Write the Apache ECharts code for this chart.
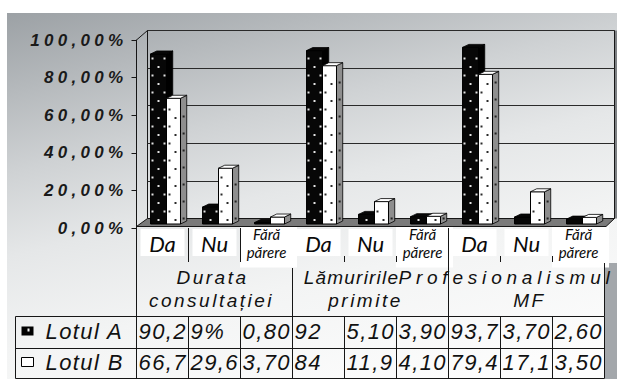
<!DOCTYPE html>
<html>
<head>
<meta charset="utf-8">
<script src="https://cdn.jsdelivr.net/npm/echarts@6/dist/echarts.min.js"></script>
<style>
  html, body { margin: 0; padding: 0; background: #fff; }
  #chart { width: 617px; height: 379px; }
  /* wide Excel-style tracking for the table and axis texts */
  #chart text[style*="Liberation"][style*="17px"] { letter-spacing: 4.3px; }
  #chart text[style*="Liberation"][style*="19px"] { letter-spacing: 2.5px; }
  #chart text[style*="Liberation"][style*="19px"][style*="Arial"] { letter-spacing: 1.2px; }
  #chart text[style*="Liberation"][style*="19px"][style*="Arimo"] { letter-spacing: 4.8px; }
  #chart text[style*="Liberation"][style*="22px"] { letter-spacing: 1.4px; }
</style>
</head>
<body>
<div id="chart"></div>
<script>
// answer categories (three per question)
const categories = ['Da', 'Nu', 'Fără părere', 'Da', 'Nu', 'Fără părere', 'Da', 'Nu', 'Fără părere'];
// questions, one per block of three categories
const groups = ['Durata consultației', 'Lămuririle primite', 'Profesionalismul MF'];
const seriesNames = ['Lotul A', 'Lotul B'];
// percentages per answer
const lotulA = [90.2, 9, 0.8, 92, 5.1, 3.9, 93.7, 3.7, 2.6];
const lotulB = [66.7, 29.6, 3.7, 84, 11.9, 4.1, 79.4, 17.1, 3.5];
// data-table cell texts as they appear in the narrow cells
const lotulAText = ['90,2', '9%', '0,80', '92', '5,10', '3,90', '93,7', '3,70', '2,60'];
const lotulBText = ['66,7', '29,6', '3,70', '84', '11,9', '4,10', '79,4', '17,1', '3,50'];

const chart = echarts.init(document.getElementById('chart'), null, { renderer: 'svg' });

const ARIAL = 'Liberation Sans';
const HUMANIST = 'Lato';

// geometry of the data table under the plot
const tableLeft = 136.5, colW = 52, rowATop = 316.5, rowBTop = 348.5, tableBottom = 378.5;
// horizontal nudges of the two wrapped lines of each question label
const groupLineShift = [[-2, -3], [-19, -5], [-20, 3]];
const groupLineFamily = [[ARIAL, ARIAL], ['Liberation Sans, Arial', ARIAL], ['Liberation Sans, Arimo', ARIAL]];

// 3D column with dotted fill, drawn from the category/value scales
function drawColumn(isA) {
  return function (params, api) {
    const i = api.value(0);
    const v = api.value(1);
    const top = api.coord([i, v]);
    const base = api.coord([i, 0]);
    const bw = api.size([1, 0])[0];
    const cx = top[0];
    const x0 = cx + bw * (isA ? -0.23 : 0.077);
    const x1 = cx + bw * (isA ? 0.077 : 0.346);
    const dx = bw * 0.12, dy = -3;
    const yT = top[1], yB = base[1];
    const face = isA ? '#070707' : '#ffffff';
    const side = isA ? '#000000' : '#8e8e8e';
    const dot = isA ? '#e4e4e4' : '#2a2a2a';
    const children = [
      { type: 'polygon', shape: { points: [[x1, yT], [x1 + dx, yT + dy], [x1 + dx, yB + dy], [x1, yB]] },
        style: { fill: side, stroke: '#000', lineWidth: 0.8 } },
      { type: 'rect', shape: { x: x0, y: yT, width: x1 - x0, height: yB - yT },
        style: { fill: face, stroke: '#000', lineWidth: 1 } },
      { type: 'polygon', shape: { points: [[x0, yT], [x1, yT], [x1 + dx, yT + dy], [x0 + dx, yT + dy]] },
        style: { fill: face, stroke: '#000', lineWidth: 0.8 } }
    ];
    for (let j = 0; ; j++) {
      const y = yB - 4 - 8.5 * j;
      if (y < yT + 3) break;
      const xs = isA ? (j % 2 ? [cx - 10, cx + 2] : [cx - 4]) : (j % 2 ? [cx + 7] : [cx + 13]);
      xs.forEach(function (x) {
        children.push({ type: 'rect', shape: { x: x - 1, y: y - 1, width: 2, height: 2 }, style: { fill: dot } });
      });
      if (!isA && j % 2 === 0) {
        children.push({ type: 'rect', shape: { x: x1 + dx / 2 - 1, y: y - 1 + dy / 2, width: 2, height: 2 }, style: { fill: '#222' } });
      }
    }
    return { type: 'group', children: children };
  };
}

// data-table value cells, placed in the category columns
function drawTableRow(params, api) {
  const i = api.value(0);
  const c = api.coord([i, 0]);
  const bw = api.size([1, 0])[0];
  const left = c[0] - bw / 2;
  const cell = function (text, y) {
    return { type: 'text', x: left + 2, y: y,
      style: { text: text, fill: '#111', fontSize: 22, fontFamily: ARIAL, fontStyle: 'italic',
               align: 'left', verticalAlign: 'middle' } };
  };
  return { type: 'group', children: [cell(lotulAText[i], 331), cell(lotulBText[i], 362)] };
}

// question labels, centred under their block of three categories
function drawGroupLabel(params, api) {
  const g = params.dataIndex;
  const cx = api.coord([api.value(0), 0])[0];
  const lines = groups[g].split(' ');
  return { type: 'group', children: lines.map(function (t, n) {
    return { type: 'text', x: cx + groupLineShift[g][n], y: 277 + 23 * n,
      style: { text: t, fill: '#111', fontSize: 19, fontFamily: groupLineFamily[g][n], fontStyle: 'italic',
               align: 'center', verticalAlign: 'middle' } };
  }) };
}

// table rules and label boxes
const tableGraphics = [];
const boxes = [];
categories.forEach(function (c, k) {
  const L = tableLeft + colW * k;
  if (c.indexOf(' ') > 0) {
    boxes.push({ type: 'rect', z: -2, shape: { x: L - 0.5, y: 226.5, width: 57, height: 41 }, style: { fill: '#ffffff' } });
  } else {
    boxes.push({ type: 'rect', z: -2, shape: { x: L + 4, y: 229, width: 44, height: 27 }, style: { fill: '#ffffff' } });
  }
});
function vline(x, y1, y2) {
  tableGraphics.push({ type: 'line', z: 5, shape: { x1: x, y1: y1, x2: x, y2: y2 }, style: { stroke: '#161616', lineWidth: 1 } });
}
function hline(y, x1, x2) {
  tableGraphics.push({ type: 'line', z: 5, shape: { x1: x1, y1: y, x2: x2, y2: y }, style: { stroke: '#161616', lineWidth: 1 } });
}
vline(tableLeft, 228, tableBottom);
vline(15.5, rowATop, tableBottom);
[rowATop, rowBTop, tableBottom].forEach(function (y) { hline(y, 15.5, tableLeft + colW * 9); });
for (let k = 1; k <= 9; k++) vline(tableLeft + colW * k, rowATop, tableBottom);
vline(tableLeft + colW * 1, 228, 262);
vline(tableLeft + colW * 2, 228, 262);
[4, 5, 7, 8].forEach(function (k) { vline(tableLeft + colW * k, 256, 262); });
vline(tableLeft + colW * 3, 268, rowATop);
vline(tableLeft + colW * 6, 228, rowATop);
vline(tableLeft + colW * 9, 263, rowATop);

const option = {
  backgroundColor: '#ffffff',
  animation: false,
  grid: [
    { left: 136.5, right: 12.5, top: 35.5, bottom: 155 },
    { left: 136.5, right: 12.5, top: 40, bottom: 151 },
    { left: 147.5, right: 2.5, top: 30.5, bottom: 160.5, show: true,
      borderColor: '#161616', borderWidth: 1, backgroundColor: 'transparent' }
  ],
  xAxis: [
    { type: 'category', gridIndex: 0, data: categories, position: 'bottom',
      axisLine: { show: false }, axisTick: { show: false }, splitLine: { show: false },
      axisLabel: {
        interval: 0, margin: 19, verticalAlign: 'middle',
        formatter: function (v) {
          return v.indexOf(' ') > 0 ? '{b|' + v.replace(' ', '\n') + '}' : '{a|' + v + '}';
        },
        rich: {
          a: { fontFamily: HUMANIST, fontStyle: 'italic', fontSize: 22, color: '#0a0a0a', lineHeight: 24 },
          b: { fontFamily: HUMANIST, fontStyle: 'italic', fontSize: 15, color: '#0a0a0a', lineHeight: 18 }
        }
      } },
    { type: 'category', gridIndex: 1, data: categories, show: false },
    { type: 'category', gridIndex: 2, data: categories, show: false }
  ],
  yAxis: [
    { type: 'value', gridIndex: 0, min: 0, max: 100, show: false },
    { type: 'value', gridIndex: 1, min: 0, max: 100, interval: 20,
      axisLine: { show: true, lineStyle: { color: '#161616', width: 1 } },
      axisTick: { show: true, length: 5, lineStyle: { color: '#161616' } },
      splitLine: { show: false },
      axisLabel: {
        margin: 9, color: '#1a1a1a', fontFamily: ARIAL, fontStyle: 'italic', fontWeight: 'bold', fontSize: 17,
        formatter: function (v) { return v.toFixed(2).replace('.', ',') + '%'; }
      } },
    { type: 'value', gridIndex: 2, min: 0, max: 100, interval: 20,
      axisLine: { show: false }, axisTick: { show: false }, axisLabel: { show: false },
      splitLine: { show: true, lineStyle: { color: '#2a2a2a', width: 1 } } }
  ],
  legend: {
    data: [
      { name: seriesNames[0], icon: 'path://M0,0H12V9H0Z M6,2V5H8V2Z', itemStyle: { color: '#000' } },
      { name: seriesNames[1], icon: 'rect', itemStyle: { color: '#fff', borderColor: '#000', borderWidth: 1 } }
    ],
    orient: 'vertical', left: 21, top: 320, itemWidth: 12, itemHeight: 9, itemGap: 9,
    selectedMode: false, padding: 0,
    textStyle: { fontFamily: ARIAL, fontStyle: 'italic', fontSize: 22, color: '#111', lineHeight: 22, padding: [0, 0, 0, 7] }
  },
  series: [
    { name: seriesNames[0], type: 'custom', xAxisIndex: 0, yAxisIndex: 0, z: 3,
      itemStyle: { color: '#000' },
      data: lotulA.map(function (v, i) { return [i, v]; }), renderItem: drawColumn(true) },
    { name: seriesNames[1], type: 'custom', xAxisIndex: 0, yAxisIndex: 0, z: 4,
      itemStyle: { color: '#fff' },
      data: lotulB.map(function (v, i) { return [i, v]; }), renderItem: drawColumn(false) },
    { name: 'tabel', type: 'custom', xAxisIndex: 0, yAxisIndex: 0, z: 6, silent: true,
      data: categories.map(function (c, i) { return [i, 0]; }), renderItem: drawTableRow },
    { name: 'intrebari', type: 'custom', xAxisIndex: 0, yAxisIndex: 0, z: 6, silent: true,
      data: groups.map(function (g, n) { return [n * 3 + 1, 0]; }), renderItem: drawGroupLabel }
  ],
  graphic: [
    { type: 'rect', z: -3, silent: true, shape: { x: 7, y: 13, width: 610, height: 366 },
      style: { fill: new echarts.graphic.LinearGradient(0, 0, 0.46, 1.15, [
        { offset: 0, color: '#9ca1a5' }, { offset: 0.33, color: '#cfd2d4' },
        { offset: 0.5, color: '#e5e7e8' }, { offset: 0.7, color: '#f3f4f4' }, { offset: 1, color: '#fdfdfd' }]) } },
    { type: 'rect', z: -2, silent: true, shape: { x: 605, y: 263, width: 12, height: 116 }, style: { fill: '#a3a7ab' } },
    { type: 'polygon', z: 1, silent: true,
      shape: { points: [[136.5, 226.5], [147.5, 218.5], [614.5, 218.5], [606, 226.5]] },
      style: { fill: '#7a7a7a', stroke: '#161616', lineWidth: 1 } },
    { type: 'line', z: 1, silent: true, shape: { x1: 136.5, y1: 40, x2: 147.5, y2: 30.5 }, style: { stroke: '#161616', lineWidth: 1 } },
    { type: 'rect', z: 1, silent: true, shape: { x: 615, y: 30.5, width: 2, height: 188 }, style: { fill: '#7d8083' } }
  ].concat(boxes, tableGraphics)
};

chart.setOption(option);
</script>
</body>
</html>
